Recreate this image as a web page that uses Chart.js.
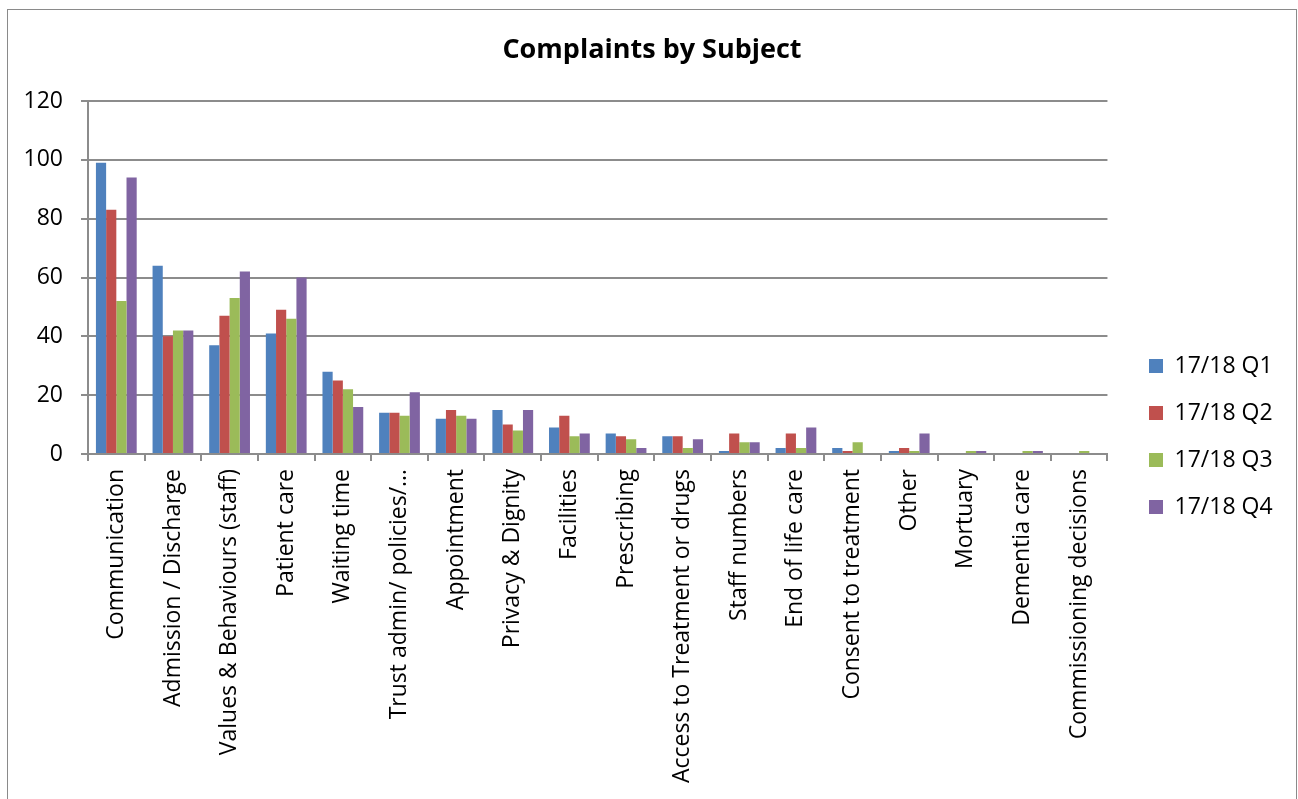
<!DOCTYPE html>
<html>
<head>
<meta charset="utf-8">
<script src="https://cdn.jsdelivr.net/npm/chart.js@4"></script>
<style>
  html, body { margin: 0; padding: 0; background: #ffffff; overflow: hidden; }
  #wrap { position: absolute; left: 0; top: 0; width: 1298px; height: 799px; }
  #frame { position: absolute; left: 7px; top: 9px; width: 1288px; height: 800px;
           border: 1px solid #8a8a8a; border-bottom: none; pointer-events: none; }
</style>
</head>
<body>
<div id="wrap"><canvas id="c" width="1298" height="799"></canvas></div>
<div id="frame"></div>
<script>
const categories = [
  "Communication", "Admission / Discharge", "Values & Behaviours (staff)", "Patient care",
  "Waiting time", "Trust admin/ policies/\u2026", "Appointment", "Privacy & Dignity",
  "Facilities", "Prescribing", "Access to Treatment or drugs", "Staff numbers",
  "End of life care", "Consent to treatment", "Other", "Mortuary", "Dementia care",
  "Commissioning decisions"
];
const seriesNames = ["17/18 Q1", "17/18 Q2", "17/18 Q3", "17/18 Q4"];
const q1 = [99, 64, 37, 41, 28, 14, 12, 15, 9, 7, 6, 1, 2, 2, 1, 0, 0, 0];
const q2 = [83, 40, 47, 49, 25, 14, 15, 10, 13, 6, 6, 7, 7, 1, 2, 0, 0, 0];
const q3 = [52, 42, 53, 46, 22, 13, 13, 8, 6, 5, 2, 4, 2, 4, 1, 1, 1, 1];
const q4 = [94, 42, 62, 60, 16, 21, 12, 15, 7, 2, 5, 4, 9, 0, 7, 1, 1, 0];
const seriesColors = ["#4F81BD", "#C0504D", "#9BBB59", "#8064A2"];
const yTicks = [0, 20, 40, 60, 80, 100, 120];
const chartTitle = "Complaints by Subject";

const PLOT_LEFT = 88, PLOT_BOTTOM = 454, CANVAS_H = 799;
const LEGEND_BOX_X = 1149, LEGEND_FIRST_Y = 366, TITLE_CENTER_X = 652;

Chart.defaults.font.family = "'Open Sans', 'DejaVu Sans', sans-serif";
Chart.defaults.color = "#000000";

const seriesValues = [q1, q2, q3, q4];
const datasets = seriesNames.map((name, i) => ({
  label: name,
  data: seriesValues[i],
  backgroundColor: seriesColors[i],
  borderWidth: 0,
  categoryPercentage: 0.72,
  barPercentage: 1.0
}));

const layoutShift = {
  id: 'layoutShift',
  afterLayout(chart) {
    const lg = chart.legend;
    if (lg && lg.legendHitBoxes && lg.legendHitBoxes.length) {
      const pad = lg.options.labels.padding;
      const dx = (LEGEND_BOX_X - pad) - lg.left;
      lg.left += dx; lg.right += dx;
      const colH = lg.columnSizes[0].height;
      const y0 = ((lg.top + pad) + (lg.bottom - colH)) / 2;
      const itemH = lg.legendHitBoxes[0].height;
      const dy = (LEGEND_FIRST_Y - itemH / 2) - y0;
      lg.top += dy; lg.bottom += dy;
    }
    const tb = chart.titleBlock;
    if (tb) {
      const cx = (tb.left + tb.right) / 2;
      const tdx = TITLE_CENTER_X - cx;
      tb.left += tdx; tb.right += tdx;
    }
  }
};

new Chart(document.getElementById('c'), {
  type: 'bar',
  data: { labels: categories, datasets },
  plugins: [layoutShift],
  options: {
    responsive: false,
    animation: false,
    layout: { padding: { left: 0, right: 33, top: 0, bottom: 0 } },
    plugins: {
      title: {
        display: true,
        text: chartTitle,
        font: { size: 27, weight: 'bold' },
        color: '#000',
        padding: { top: 34, bottom: 34.6 }
      },
      legend: {
        position: 'right',
        labels: {
          boxWidth: 14,
          boxHeight: 14,
          padding: 24,
          font: { size: 23 },
          color: '#000'
        }
      },
      tooltip: { enabled: false }
    },
    scales: {
      x: {
        grid: {
          display: true,
          drawOnChartArea: false,
          drawTicks: true,
          tickLength: 7,
          color: '#8c8c8c',
          lineWidth: 2,
          offset: true
        },
        border: { display: true, color: '#8c8c8c', width: 2 },
        ticks: {
          minRotation: 90,
          maxRotation: 90,
          autoSkip: false,
          padding: 8,
          font: { size: 23 },
          color: '#000'
        },
        afterFit(scale) { scale.height = CANVAS_H - PLOT_BOTTOM; }
      },
      y: {
        min: 0,
        max: 120,
        afterBuildTicks(scale) { scale.ticks = yTicks.map(v => ({ value: v })); },
        grid: {
          color: '#8c8c8c',
          lineWidth: 2,
          tickLength: 7,
          drawTicks: true
        },
        border: { display: true, color: '#8c8c8c', width: 2 },
        ticks: {
          padding: 18,
          font: { size: 23 },
          color: '#000'
        },
        afterFit(scale) { scale.width = PLOT_LEFT; }
      }
    }
  }
});
</script>
</body>
</html>
